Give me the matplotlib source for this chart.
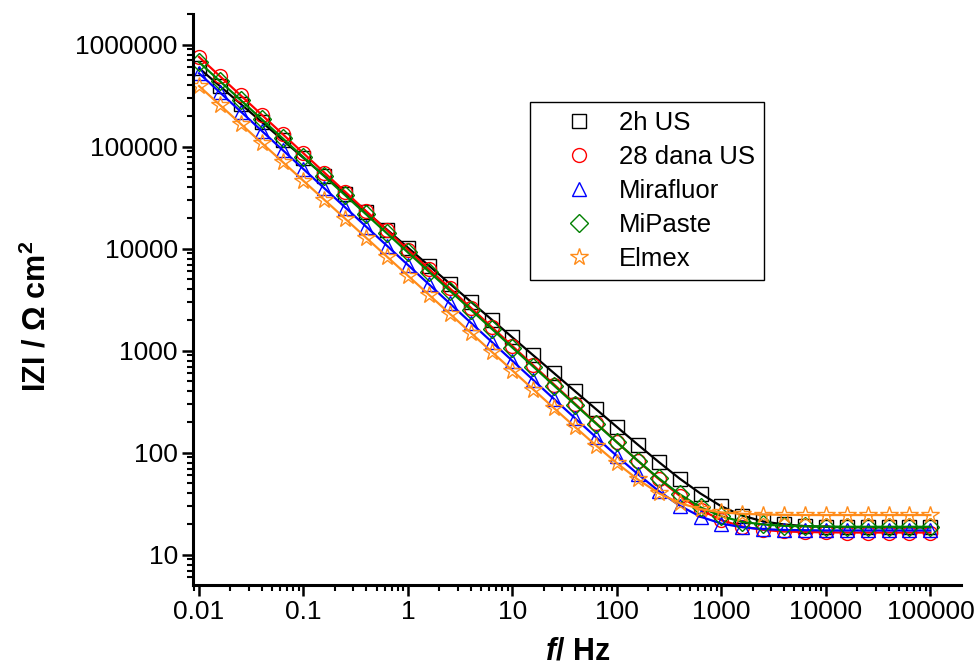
import matplotlib
matplotlib.use('Agg')
import matplotlib.pyplot as plt
import matplotlib.ticker as mticker
import numpy as np

plt.rcParams['font.family'] = ['Liberation Sans', 'DejaVu Sans']
plt.rcParams['mathtext.fontset'] = 'custom'
plt.rcParams['mathtext.it'] = 'Liberation Sans:italic:bold'
plt.rcParams['mathtext.rm'] = 'Liberation Sans:bold'
plt.rcParams['mathtext.bf'] = 'Liberation Sans:bold'

# frequency, Hz (5 points per decade, 0.01 .. 100000)
freq = [0.01, 0.01585, 0.02512, 0.03981, 0.0631, 0.1, 0.1585, 0.2512, 0.3981, 0.631,
        1, 1.585, 2.512, 3.981, 6.31, 10, 15.85, 25.12, 39.81, 63.1,
        100, 158.5, 251.2, 398.1, 631, 1000, 1585, 2512, 3981, 6310,
        10000, 15850, 25120, 39810, 63100, 100000]

# |Z| / Ohm cm2
z_2h = [589000, 392600, 261800, 174600, 116400, 77600, 51760, 34510, 23010, 15350,
        10230, 6823, 4550, 3034, 2023, 1349, 899.5, 600, 400, 267.3,
        178.8, 120, 81.2, 55.8, 39.8, 29.8, 24.2, 21.2, 19.8, 19.1,
        18.75, 18.6, 18.55, 18.5, 18.5, 18.5]
z_28d = [758600, 491000, 317700, 205600, 133000, 86100, 55720, 36060, 23330, 15100,
         9772, 6324, 4093, 2649, 1714, 1109, 718, 464.8, 301, 195.2,
         127, 83.2, 55.2, 37.9, 27.6, 21.8, 18.9, 17.5, 16.9, 16.7,
         16.6, 16.5, 16.5, 16.5, 16.5, 16.5]
z_mira = [524800, 340400, 220800, 143200, 92900, 60260, 39080, 25350, 16440, 10670,
          6918, 4487, 2911, 1888, 1225, 794.5, 515.5, 334.6, 217.5, 141.7,
          92.8, 61.7, 42.1, 30.3, 23.6, 20.2, 18.6, 17.8, 17.5, 17.4,
          17.3, 17.3, 17.3, 17.3, 17.3, 17.3]
z_mipaste = [674500, 439000, 285700, 185900, 120900, 78700, 51220, 33330, 21690, 14110,
             9183, 5976, 3889, 2531, 1647, 1072, 697.5, 454.2, 295.9, 193,
             126.4, 83.5, 56.1, 39.2, 29.2, 23.8, 21.0, 19.8, 19.2, 19.0,
             18.9, 18.8, 18.8, 18.8, 18.8, 18.8]
z_elmex = [393600, 256400, 167100, 108900, 70960, 46240, 30130, 19630, 12790, 8337,
           5433, 3540, 2307, 1503, 979.8, 638.8, 416.6, 272.1, 178.3, 117.7,
           78.9, 54.7, 40.1, 32.1, 28.0, 26.0, 25.2, 24.8, 24.6, 24.5,
           24.5, 24.5, 24.5, 24.5, 24.5, 24.5]

labels = ['2h US', '28 dana US', 'Mirafluor', 'MiPaste', 'Elmex']
series = [z_2h, z_28d, z_mira, z_mipaste, z_elmex]
colors = ['black', '#ff0000', '#0000ff', '#008000', '#ff8c1a']
markers = ['s', 'o', '^', 'D', '*']
msizes = [10, 10, 10, 9, 13]

xticks = [0.01, 0.1, 1, 10, 100, 1000, 10000, 100000]
yticks = [10, 100, 1000, 10000, 100000, 1000000]

fig = plt.figure(figsize=(9.8, 6.66), dpi=100)
ax = fig.add_axes([0.197, 0.122, 0.784, 0.857])

for z, c, m, ms, lab in zip(series, colors, markers, msizes, labels):
    ax.plot(freq, z, linestyle='none', marker=m, markersize=ms, markerfacecolor='none',
            markeredgecolor=c, markeredgewidth=1.0, label=lab)
    ax.plot(freq, z, color=c, linewidth=1.6)

ax.set_xscale('log')
ax.set_yscale('log')
ax.set_xlim(0.00877, 198000)
ax.set_ylim(5.08, 2.0e6)

fmt = mticker.FuncFormatter(lambda v, p: f'{v:g}' if v < 1 else f'{v:.0f}')
ax.xaxis.set_major_locator(mticker.FixedLocator(xticks))
ax.yaxis.set_major_locator(mticker.FixedLocator(yticks))
ax.xaxis.set_minor_locator(mticker.LogLocator(base=10, subs=np.arange(2, 10), numticks=20))
ax.yaxis.set_minor_locator(mticker.LogLocator(base=10, subs=np.arange(2, 10), numticks=20))
ax.xaxis.set_major_formatter(fmt)
ax.yaxis.set_major_formatter(fmt)
ax.xaxis.set_minor_formatter(mticker.NullFormatter())
ax.yaxis.set_minor_formatter(mticker.NullFormatter())

ax.spines['top'].set_visible(False)
ax.spines['right'].set_visible(False)
for s in ['left', 'bottom']:
    ax.spines[s].set_linewidth(2.2)
ax.tick_params(which='major', direction='out', length=8, width=1.8, labelsize=19, pad=3)
ax.tick_params(which='minor', direction='out', length=4.5, width=1.5)

ax.set_xlabel(r'$\mathit{f}$/ Hz', fontsize=22, fontweight='bold', labelpad=9)
ax.set_ylabel(r'IZI / Ω cm$^\mathbf{2}$', fontsize=22, fontweight='bold')
ax.yaxis.set_label_coords(-0.183, 0.47)

leg = ax.legend(loc='upper left', bbox_to_anchor=(0.439, 0.846), fontsize=18.5, frameon=True,
                fancybox=False, edgecolor='black', framealpha=1, borderpad=0.35,
                labelspacing=0.39, handletextpad=0.0, handlelength=3.1, borderaxespad=0)
leg.get_frame().set_linewidth(1.0)

fig.savefig('out.png', dpi=100)
